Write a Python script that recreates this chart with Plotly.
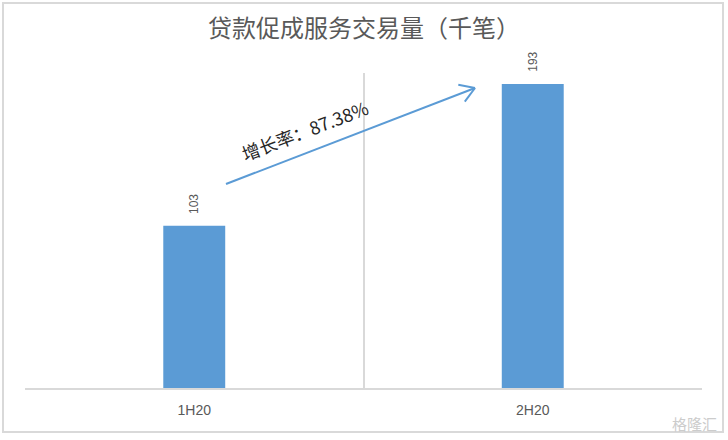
import math
import plotly.graph_objects as go

# ---- data ----
categories = ["1H20", "2H20"]
values = [103, 193]
growth_label = "增长率：87.38%"
title_text = "贷款促成服务交易量（千笔）"
watermark = "格隆汇"

W, H = 728, 440
ML, MR, MT, MB = 25, 26, 73, 52
PW, PH = W - ML - MR, H - MT - MB
YMAX = 200

def px_to_paper(px, py):
    return (px - ML) / PW, (H - MB - py) / PH

fig = go.Figure()
fig.add_trace(go.Bar(
    x=categories, y=values, width=0.183,
    marker=dict(color="#5b9bd5", line=dict(width=0)),
    hoverinfo="x+y",
))

shapes = []
# outer frame
x0, y0 = px_to_paper(3, 432)
x1, y1 = px_to_paper(723, 3)
shapes.append(dict(type="rect", xref="paper", yref="paper", x0=x0, y0=y0, x1=x1, y1=y1,
                   line=dict(color="#d9d9d9", width=2), layer="below"))

# arrow (pixel geometry converted to paper)
sx, sy = 226, 184
ex, ey = 475, 88
ax0, ay0 = px_to_paper(sx, sy)
ax1, ay1 = px_to_paper(ex, ey)
acol = "#5b9bd5"
shapes.append(dict(type="line", xref="paper", yref="paper", x0=ax0, y0=ay0, x1=ax1, y1=ay1,
                   line=dict(color=acol, width=2)))
ang = math.atan2(ey - sy, ex - sx)
hl = 17
for d in (math.radians(32), -math.radians(32)):
    hx = ex - hl * math.cos(ang + d)
    hy = ey - hl * math.sin(ang + d)
    hx0, hy0 = px_to_paper(hx, hy)
    shapes.append(dict(type="line", xref="paper", yref="paper", x0=hx0, y0=hy0, x1=ax1, y1=ay1,
                       line=dict(color=acol, width=2)))

tx, ty = px_to_paper(305, 130)
wx, wy = px_to_paper(694, 423)
annotations = [
    dict(text=growth_label, xref="paper", yref="paper", x=tx, y=ty, showarrow=False,
         textangle=-21, font=dict(size=18, color="#262626", family="Noto Sans CJK SC, Liberation Sans"),
         xanchor="center", yanchor="middle"),
    dict(text=watermark, xref="paper", yref="paper", x=wx, y=wy, showarrow=False,
         font=dict(size=15, color="#cccccc", family="Noto Sans CJK SC"),
         xanchor="center", yanchor="middle"),
]
for c, v in zip(categories, values):
    annotations.append(dict(text=str(v), x=c, y=v, xref="x", yref="y", showarrow=False,
                            textangle=-90, yanchor="bottom", xanchor="center", yshift=10,
                            font=dict(size=12, color="#595959", family="Liberation Sans, Arial")))

fig.update_layout(
    width=W, height=H,
    margin=dict(l=ML, r=MR, t=MT, b=MB),
    paper_bgcolor="white", plot_bgcolor="white",
    showlegend=False,
    title=dict(text=title_text, x=0.5, xanchor="center", xref="container",
               y=1 - 29 / H, yref="container", yanchor="middle",
               font=dict(size=24, color="#595959", family="Noto Sans CJK SC")),
    xaxis=dict(type="category", range=[-0.5, 1.5], tickson="boundaries",
               showgrid=True, gridcolor="#d9d9d9", gridwidth=2,
               showline=True, linecolor="#d9d9d9", linewidth=2, ticks="",
               ticklabelstandoff=8,
               tickfont=dict(size=14, color="#595959", family="Liberation Sans, Arial"),
               zeroline=False, fixedrange=True),
    yaxis=dict(range=[0, YMAX], visible=False, showgrid=False, zeroline=False, fixedrange=True),
    shapes=shapes,
    annotations=annotations,
)

fig.write_html("out.html", config={"displayModeBar": False},
               post_script="document.body.style.margin='0';document.body.style.overflow='hidden';")
